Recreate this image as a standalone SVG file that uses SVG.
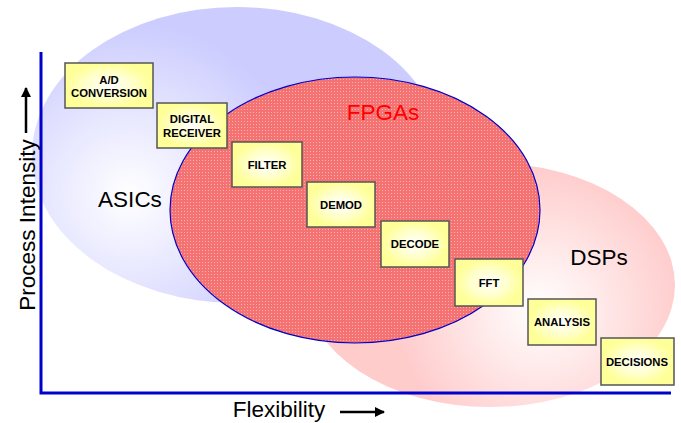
<svg xmlns="http://www.w3.org/2000/svg" width="681" height="423" viewBox="0 0 681 423">
<defs>
<radialGradient id="gBlue" cx="130" cy="195" r="230" gradientUnits="userSpaceOnUse">
<stop offset="0" stop-color="#ffffff"/>
<stop offset="0.75" stop-color="#ccccff"/>
<stop offset="1" stop-color="#ccccff"/>
</radialGradient>
<radialGradient id="gPink" cx="540" cy="310" r="190" gradientUnits="userSpaceOnUse">
<stop offset="0" stop-color="#ffffff"/>
<stop offset="0.75" stop-color="#ffcccc"/>
<stop offset="1" stop-color="#ffcccc"/>
</radialGradient>
<pattern id="hatch" width="3" height="3" patternUnits="userSpaceOnUse">
<rect width="3" height="3" fill="#f57272"/>
<rect x="1" y="1" width="1" height="1" fill="#ffb0b0"/>
</pattern>
<radialGradient id="gBox" cx="0.5" cy="0.5" r="0.6">
<stop offset="0" stop-color="#ffffff"/>
<stop offset="0.45" stop-color="#ffffcc"/>
<stop offset="0.8" stop-color="#ffff99"/>
</radialGradient>
<marker id="arr" viewBox="0 0 10 10" refX="9" refY="5" markerWidth="12" markerHeight="10" orient="auto" markerUnits="userSpaceOnUse">
<path d="M0,0 L10,5 L0,10 Z" fill="#000"/>
</marker>
<style>
.box{fill:url(#gBox);stroke:#555;stroke-width:1.5}
.bt{font-family:"Liberation Sans",Arial,sans-serif;font-weight:bold;font-size:11.3px;text-anchor:middle;fill:#000}
.lbl{font-family:"Liberation Sans",Arial,sans-serif;font-size:22.5px;fill:#000}
</style>
</defs>
<rect width="681" height="423" fill="#fff"/>
<g id="asics">
<ellipse cx="237" cy="155" rx="205" ry="148" fill="url(#gBlue)"/>
</g>
<g id="dsps">
<ellipse cx="490" cy="285" rx="185" ry="122" fill="url(#gPink)"/>
</g>
<g id="fpgas">
<ellipse cx="355" cy="210" rx="185" ry="133" fill="url(#hatch)" stroke="#0000cc" stroke-width="1.2"/>
</g>
<g id="axes" fill="none" stroke="#0000cc" stroke-width="3">
<polyline points="41,52 41,393 671,393"/>
</g>
<g id="connectors" stroke="#000" stroke-width="2.5" fill="none">
<line x1="26" y1="133" x2="26" y2="88" marker-end="url(#arr)"/>
<line x1="340" y1="412" x2="384" y2="412" marker-end="url(#arr)"/>
</g>
<text class="lbl" x="130" y="207" text-anchor="middle">ASICs</text>
<text class="lbl" x="383" y="120" text-anchor="middle" style="fill:#ff0000">FPGAs</text>
<text class="lbl" x="599" y="265" text-anchor="middle">DSPs</text>
<text class="lbl" x="279" y="417" text-anchor="middle">Flexibility</text>
<text class="lbl" transform="translate(35,225) rotate(-90)" text-anchor="middle">Process Intensity</text>
<g id="ad"><rect class="box" x="65" y="63" width="88" height="45"/><text class="bt" x="109" y="84">A/D</text><text class="bt" x="109" y="97">CONVERSION</text></g>
<g id="digital"><rect class="box" x="157" y="103" width="70" height="45"/><text class="bt" x="192" y="123">DIGITAL</text><text class="bt" x="192" y="137">RECEIVER</text></g>
<g id="filter"><rect class="box" x="232" y="142" width="70" height="45"/><text class="bt" x="267" y="169">FILTER</text></g>
<g id="demod"><rect class="box" x="307" y="182" width="68" height="45"/><text class="bt" x="341" y="209">DEMOD</text></g>
<g id="decode"><rect class="box" x="381" y="221" width="68" height="46"/><text class="bt" x="415" y="248">DECODE</text></g>
<g id="fft"><rect class="box" x="455" y="259" width="68" height="47"/><text class="bt" x="489" y="287">FFT</text></g>
<g id="analysis"><rect class="box" x="528" y="299" width="68" height="46"/><text class="bt" x="562" y="326">ANALYSIS</text></g>
<g id="decisions"><rect class="box" x="601" y="338" width="73" height="47"/><text class="bt" x="637" y="366">DECISIONS</text></g>
</svg>
